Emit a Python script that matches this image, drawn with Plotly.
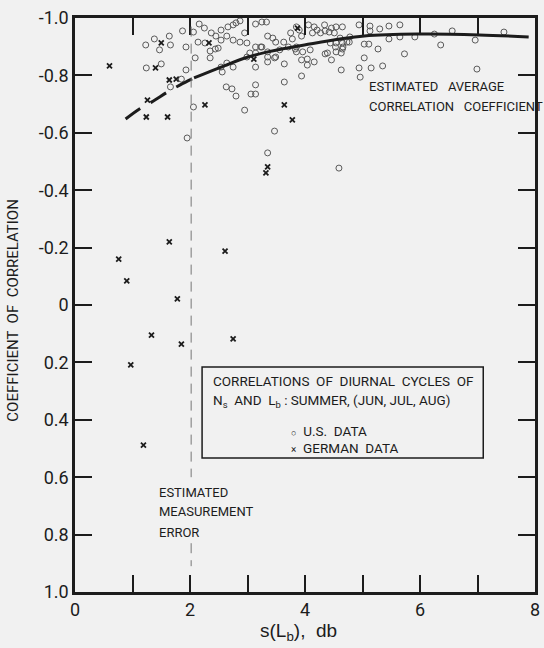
import plotly.graph_objects as go

# ---------------- data ----------------
us_x = [1.87, 2.16, 2.25, 2.06, 2.37, 2.45, 2.54, 2.66, 2.75, 2.80, 2.87, 2.95,
        1.93, 2.14, 2.26, 2.35, 2.44, 2.49, 2.54, 2.64, 2.75, 2.87, 2.99,
        3.14, 3.25, 3.33, 3.35, 3.44, 3.49, 3.14, 3.23, 3.35, 3.47, 3.63, 3.71,
        3.75, 3.78, 3.85, 3.90, 3.94, 3.85, 3.85, 3.96, 3.94,
        4.06, 4.16, 4.21, 4.13, 4.27, 4.34, 4.35, 4.42, 4.46, 4.54, 4.65, 4.51,
        4.61, 4.73, 4.78, 4.65, 4.53, 4.66, 4.39, 4.54, 4.46, 4.63, 4.09, 4.04,
        4.04, 3.94, 4.16, 4.35,
        2.09, 2.35, 2.64, 2.54, 2.56, 2.75, 2.99, 3.04, 3.14, 3.14, 3.25, 3.35,
        3.35, 3.49, 3.56, 3.64, 3.64, 3.83, 1.93, 1.85, 2.63, 2.73, 2.80, 3.06,
        3.14, 3.14, 2.06, 2.95, 3.47, 1.95,
        4.77, 4.94, 5.13, 5.13, 5.30, 5.46, 5.65, 5.46, 5.65, 5.91, 6.25, 6.56,
        7.46, 6.36, 6.96, 6.99, 5.03, 5.11, 5.27, 5.73, 5.03, 4.94, 5.15, 5.35,
        4.96, 4.44, 4.54, 4.65, 4.63, 3.35, 4.59,
        1.23, 1.38, 1.47, 1.66, 1.64, 1.24, 1.50, 1.66]
us_y = [-0.955, -0.979, -0.965, -0.951, -0.948, -0.937, -0.958, -0.969, -0.976, -0.983, -0.990, -0.948,
        -0.899, -0.916, -0.913, -0.885, -0.892, -0.895, -0.923, -0.937, -0.923, -0.916, -0.913,
        -0.979, -0.986, -0.986, -0.937, -0.930, -0.916, -0.899, -0.899, -0.882, -0.861, -0.916, -0.899,
        -0.948, -0.927, -0.969, -0.958, -0.937, -0.899, -0.882, -0.882, -0.854,
        -0.976, -0.969, -0.958, -0.948, -0.948, -0.976, -0.955, -0.951, -0.965, -0.969, -0.969, -0.948,
        -0.930, -0.916, -0.934, -0.913, -0.899, -0.899, -0.878, -0.882, -0.854, -0.819, -0.889, -0.857,
        -0.836, -0.798, -0.847, -0.875,
        -0.861, -0.861, -0.843, -0.829, -0.812, -0.829, -0.864, -0.878, -0.878, -0.829, -0.899, -0.864,
        -0.847, -0.864, -0.889, -0.840, -0.777, -0.892, -0.819, -0.787, -0.760, -0.753, -0.728, -0.735,
        -0.735, -0.767, -0.690, -0.679, -0.606, -0.582,
        -0.916, -0.976, -0.972, -0.955, -0.962, -0.972, -0.976, -0.927, -0.934, -0.934, -0.944, -0.955,
        -0.951, -0.906, -0.923, -0.822, -0.909, -0.909, -0.892, -0.875, -0.861, -0.826, -0.826, -0.833,
        -0.794, -0.913, -0.913, -0.892, -0.878, -0.530, -0.477,
        -0.906, -0.927, -0.889, -0.906, -0.937, -0.826, -0.840, -0.760]

german_x = [0.60, 1.40, 1.50, 1.64, 1.76, 1.26, 1.24, 1.61, 2.26, 3.64, 3.78, 3.35,
            3.32, 3.11, 2.33, 3.87, 0.76, 0.90, 1.64, 1.78, 2.61, 1.33, 1.85, 2.75,
            0.97, 1.19]
german_y = [-0.833, -0.826, -0.913, -0.784, -0.787, -0.714, -0.655, -0.655, -0.697, -0.697, -0.645, -0.481,
            -0.460, -0.857, -0.913, -0.965, -0.160, -0.084, -0.220, -0.021, -0.188, 0.105, 0.136, 0.118,
            0.209, 0.488]

# estimated average correlation coefficient curve
curve_dash_x = [0.88, 1.12, 1.33, 1.64, 1.83, 2.07]
curve_dash_y = [-0.648, -0.683, -0.707, -0.746, -0.767, -0.791]
curve_solid_x = [2.07, 2.54, 3.01, 3.35, 3.99, 5.03, 6.03, 7.03, 7.89]
curve_solid_y = [-0.791, -0.829, -0.864, -0.882, -0.906, -0.937, -0.944, -0.941, -0.934]

meas_error_x = 2.02

x_tickvals = [0, 1, 2, 3, 4, 5, 6, 7, 8]
x_ticktext = ["0", "", "2", "", "4", "", "6", "", "8"]
y_tickvals = [-1.0, -0.8, -0.6, -0.4, -0.2, 0.0, 0.2, 0.4, 0.6, 0.8, 1.0]
y_ticktext = ["-1.0", "-0.8", "-0.6", "-0.4", "-0.2", "0", "0.2", "0.4", "0.6", "0.8", "1.0"]

# ---------------- styling ----------------
BG = "#f1f1f1"
INK = "#1c1c1c"
LBL = "Roboto, Liberation Sans, sans-serif"
REG = "Liberation Sans, Arial, sans-serif"

fig = go.Figure()

fig.add_trace(go.Scatter(
    x=us_x, y=us_y, mode="markers", name="U.S. DATA", showlegend=False,
    marker=dict(symbol="circle-open", size=6, color="#5a5a5a", line=dict(width=1, color="#5a5a5a")),
))
fig.add_trace(go.Scatter(
    x=german_x, y=german_y, mode="markers", name="GERMAN DATA", showlegend=False,
    marker=dict(symbol="x-thin", size=5, color=INK, line=dict(width=1.8, color=INK)),
))
fig.add_trace(go.Scatter(
    x=curve_dash_x, y=curve_dash_y, mode="lines", showlegend=False,
    line=dict(color=INK, width=3, dash="18px,12px", shape="spline"),
))
fig.add_trace(go.Scatter(
    x=curve_solid_x, y=curve_solid_y, mode="lines", showlegend=False,
    line=dict(color=INK, width=3, shape="spline"),
))

# measurement error dashed line
for y0, y1 in [(-0.97, 0.60), (0.83, 0.91)]:
    fig.add_shape(type="line", x0=meas_error_x, x1=meas_error_x, y0=y0, y1=y1,
                  xref="x", yref="y", line=dict(color="#777777", width=1, dash="10px,7px"))

# legend box
fig.add_shape(type="rect", x0=2.21, x1=7.10, y0=0.216, y1=0.533, xref="x", yref="y",
              line=dict(color=INK, width=1.5), fillcolor="rgba(0,0,0,0)")


def lab(x, y, text, size=13, family=LBL):
    return dict(x=x, y=y, xref="x", yref="y", xanchor="left", yanchor="middle", align="left",
                text=text, showarrow=False, font=dict(family=family, size=size, color=INK))


annotations = [
    lab(2.37, 0.265, "CORRELATIONS  OF  DIURNAL  CYCLES  OF", 13.5),
    lab(2.37, 0.335, "N<sub>s</sub>  AND  L<sub>b</sub> : SUMMER, (JUN, JUL, AUG)", 13.5),
    lab(3.72, 0.439, "<span style='font-size:9px'>○</span>  U.S.  DATA", 13.5),
    lab(3.72, 0.498, "<span style='font-size:10px'>×</span>  GERMAN  DATA", 13.5),
    lab(5.08, -0.760, "ESTIMATED   AVERAGE"),
    lab(5.08, -0.690, "CORRELATION   COEFFICIENT"),
    lab(1.43, 0.652, "ESTIMATED"),
    lab(1.43, 0.718, "MEASUREMENT"),
    lab(1.43, 0.791, "ERROR"),
    dict(x=-0.135, y=0.49, xref="paper", yref="paper", xanchor="center", yanchor="middle",
         text="COEFFICIENT  OF  CORRELATION", textangle=-90,
         showarrow=False, font=dict(family=LBL, size=15, color=INK)),
    dict(x=0.486, y=-0.07, xref="paper", yref="paper", xanchor="center", yanchor="middle",
         text="s(L<sub>b</sub>),  db",
         showarrow=False, font=dict(family=REG, size=19, color=INK)),
]

axis_common = dict(
    showline=True, linecolor=INK, linewidth=2.5, mirror="allticks",
    ticks="inside", ticklen=17, tickwidth=1.8, tickcolor=INK,
    showgrid=False, zeroline=False,
    tickfont=dict(family=LBL, size=18, color=INK),
)

fig.update_layout(
    width=544, height=648,
    margin=dict(l=75, r=4, t=18, b=56),
    paper_bgcolor=BG, plot_bgcolor=BG,
    xaxis=dict(range=[0, 8], tickmode="array", tickvals=x_tickvals, ticktext=x_ticktext, **axis_common),
    yaxis=dict(range=[1.0, -1.0], tickmode="array", tickvals=y_tickvals, ticktext=y_ticktext, **axis_common),
    annotations=annotations,
    showlegend=False,
)

fig.write_html("out.html")
